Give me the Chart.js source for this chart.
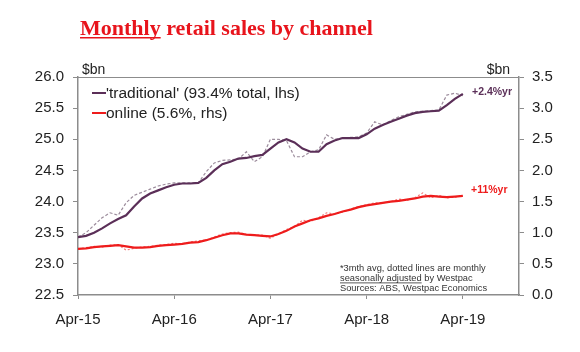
<!DOCTYPE html>
<html>
<head>
<meta charset="utf-8">
<script src="https://cdn.jsdelivr.net/npm/chart.js@4.4.1/dist/chart.umd.min.js"></script>
<style>
  html, body { margin: 0; padding: 0; background: #fff; }
  #wrap { width: 580px; height: 352px; position: relative; }
</style>
</head>
<body>
<div id="wrap"><canvas id="c" width="580" height="352"></canvas></div>
<script>
// ---- data (monthly, Apr-15 .. Apr-19) ----
const months = ['Apr-15','May-15','Jun-15','Jul-15','Aug-15','Sep-15','Oct-15','Nov-15','Dec-15','Jan-16','Feb-16','Mar-16',
  'Apr-16','May-16','Jun-16','Jul-16','Aug-16','Sep-16','Oct-16','Nov-16','Dec-16','Jan-17','Feb-17','Mar-17',
  'Apr-17','May-17','Jun-17','Jul-17','Aug-17','Sep-17','Oct-17','Nov-17','Dec-17','Jan-18','Feb-18','Mar-18',
  'Apr-18','May-18','Jun-18','Jul-18','Aug-18','Sep-18','Oct-18','Nov-18','Dec-18','Jan-19','Feb-19','Mar-19','Apr-19'];

// 'traditional' 3mth avg, $bn (lhs)
const traditional3m = [23.43,23.45,23.50,23.57,23.65,23.72,23.78,23.92,24.05,24.13,24.18,24.23,
  24.27,24.29,24.29,24.30,24.38,24.50,24.60,24.64,24.69,24.70,24.73,24.75,
  24.85,24.95,25.00,24.95,24.85,24.80,24.80,24.92,24.98,25.02,25.02,25.02,
  25.08,25.17,25.23,25.28,25.33,25.38,25.42,25.44,25.45,25.46,25.55,25.65,25.73];
// 'traditional' monthly, $bn (lhs)
const traditionalM = [23.43,23.50,23.62,23.74,23.82,23.78,23.98,24.10,24.15,24.20,24.25,24.28,
  24.30,24.30,24.30,24.30,24.48,24.62,24.66,24.67,24.68,24.80,24.64,24.72,
  25.00,25.00,24.98,24.72,24.72,24.80,24.83,25.07,25.00,25.02,25.03,25.04,
  25.10,25.28,25.23,25.30,25.36,25.40,25.44,25.45,25.46,25.47,25.71,25.74,25.70];
// online 3mth avg, $bn (rhs)
const online3m = [0.74,0.75,0.77,0.78,0.79,0.80,0.78,0.76,0.76,0.77,0.79,0.80,
  0.81,0.82,0.84,0.85,0.88,0.92,0.96,0.99,0.99,0.97,0.96,0.95,
  0.94,0.98,1.03,1.10,1.15,1.20,1.23,1.27,1.30,1.34,1.37,1.41,
  1.44,1.46,1.48,1.50,1.51,1.53,1.55,1.58,1.59,1.58,1.57,1.58,1.59];
// online monthly, $bn (rhs)
const onlineM = [0.74,0.76,0.78,0.77,0.80,0.81,0.72,0.75,0.77,0.78,0.80,0.81,
  0.83,0.82,0.85,0.87,0.88,0.93,0.98,1.00,1.01,0.97,0.96,0.96,
  0.91,0.98,1.05,1.10,1.20,1.18,1.24,1.32,1.30,1.33,1.38,1.42,
  1.45,1.48,1.48,1.50,1.54,1.52,1.56,1.64,1.56,1.60,1.56,1.57,1.60];

const xTickLabels = ['Apr-15','Apr-16','Apr-17','Apr-18','Apr-19'];
const xTickIndex = [0, 12, 24, 36, 48];
const xMaxIndex = 55; // axis runs to Nov-19
const legendLabels = ["'traditional' (93.4% total, lhs)", "online (5.6%, rhs)"];
const endLabels = ['+2.4%yr', '+11%yr'];
const noteLines = ['*3mth avg, dotted lines are monthly', 'seasonally adjusted by Westpac', 'Sources: ABS, Westpac Economics'];

const PURPLE = '#5b2f58';
const PURPLE_DOT = '#9c8c9c';
const RED = '#ee1c1c';
const RED_DOT = '#f27a7a';
const AXIS = '#8c8c8c';
const FONT = '"Liberation Sans", Arial, sans-serif';

const pts = arr => arr.map((v, i) => ({ x: i, y: v }));

const overlay = {
  id: 'overlay',
  afterDraw(chart) {
    const ctx = chart.ctx;
    const a = chart.chartArea;
    ctx.save();
    // top frame line
    ctx.strokeStyle = AXIS; ctx.lineWidth = 1;
    ctx.beginPath(); ctx.moveTo(a.left, a.top + 0.5); ctx.lineTo(a.right, a.top + 0.5); ctx.stroke();

    // title
    ctx.fillStyle = '#e8141c';
    ctx.font = 'bold 22px "Liberation Serif", "Times New Roman", serif';
    ctx.textBaseline = 'alphabetic';
    ctx.textAlign = 'left';
    const t1 = 'Monthly', t2 = ' retail sales by channel';
    const tx = 80, ty = 35;
    ctx.fillText(t1, tx, ty);
    const w1 = ctx.measureText(t1).width;
    ctx.fillText(t2, tx + w1, ty);
    ctx.fillRect(tx, ty + 2, w1, 1.5);

    // units
    ctx.fillStyle = '#222';
    ctx.font = '14px ' + FONT;
    ctx.textBaseline = 'alphabetic';
    ctx.textAlign = 'left';
    ctx.fillText('$bn', a.left + 4, a.top - 3);
    ctx.textAlign = 'right';
    ctx.fillText('$bn', a.right - 9, a.top - 3);

    // legend
    ctx.textAlign = 'left';
    ctx.textBaseline = 'middle';
    ctx.font = '15.5px ' + FONT;
    const lg = [[legendLabels[0], PURPLE, 93], [legendLabels[1], RED, 113]];
    lg.forEach(([txt, col, y]) => {
      ctx.strokeStyle = col; ctx.lineWidth = 2;
      ctx.beginPath(); ctx.moveTo(a.left + 14, y); ctx.lineTo(a.left + 28, y); ctx.stroke();
      ctx.fillStyle = '#222';
      ctx.fillText(txt, a.left + 28, y + 1);
    });

    // end labels
    ctx.font = 'bold 10.5px ' + FONT;
    ctx.textAlign = 'left';
    ctx.fillStyle = PURPLE;
    ctx.fillText(endLabels[0], 472, 92);
    ctx.fillStyle = RED;
    ctx.fillText(endLabels[1], 471, 190);

    // footnote
    ctx.fillStyle = '#333';
    ctx.font = '9.3px ' + FONT;
    ctx.textBaseline = 'alphabetic';
    const nx = 340;
    const ny = [271, 281, 291];
    noteLines.forEach((s, i) => ctx.fillText(s, nx, ny[i]));
    const uw = ctx.measureText('seasonally adjusted').width;
    ctx.fillRect(nx, ny[1] + 1.5, uw, 0.8);
    ctx.restore();
  }
};

new Chart(document.getElementById('c'), {
  type: 'line',
  data: {
    datasets: [
      { label: 'traditional 3mth', data: pts(traditional3m), yAxisID: 'y', borderColor: PURPLE, borderWidth: 2.2, pointRadius: 0, tension: 0 },
      { label: 'online 3mth', data: pts(online3m), yAxisID: 'y2', borderColor: RED, borderWidth: 2.2, pointRadius: 0, tension: 0 },
      { label: 'traditional monthly', data: pts(traditionalM), yAxisID: 'y', borderColor: PURPLE_DOT, borderWidth: 1.2, borderDash: [3, 2], pointRadius: 0, tension: 0 },
      { label: 'online monthly', data: pts(onlineM), yAxisID: 'y2', borderColor: RED_DOT, borderWidth: 1.2, borderDash: [2, 2], pointRadius: 0, tension: 0 }
    ]
  },
  options: {
    responsive: false,
    animation: false,
    layout: { padding: { top: 77, left: 0, right: 0, bottom: 0 } },
    plugins: { legend: { display: false }, tooltip: { enabled: false }, title: { display: false } },
    scales: {
      x: {
        type: 'linear', min: 0, max: xMaxIndex,
        afterBuildTicks: s => { s.ticks = xTickIndex.map(v => ({ value: v })); },
        afterFit: s => { s.height = 57; },
        grid: { drawOnChartArea: false, drawTicks: true, tickLength: 4, color: AXIS },
        border: { color: AXIS, width: 1.5 },
        ticks: { color: '#222', font: { family: FONT, size: 15 }, padding: 12, maxRotation: 0,
          callback: v => { const k = xTickIndex.indexOf(v); return k >= 0 ? xTickLabels[k] : ''; } }
      },
      y: {
        position: 'left', min: 22.5, max: 26.0,
        afterBuildTicks: s => { s.ticks = []; for (let v = 22.5; v <= 26.0001; v += 0.5) s.ticks.push({ value: +v.toFixed(1) }); },
        afterFit: s => { s.width = 78; },
        grid: { drawOnChartArea: false, drawTicks: true, tickLength: 5, color: AXIS },
        border: { color: AXIS, width: 1.5 },
        ticks: { color: '#222', font: { family: FONT, size: 15 }, padding: 9, callback: v => v.toFixed(1) }
      },
      y2: {
        position: 'right', min: 0, max: 3.5,
        afterBuildTicks: s => { s.ticks = []; for (let v = 0; v <= 3.5001; v += 0.5) s.ticks.push({ value: +v.toFixed(1) }); },
        afterFit: s => { s.width = 61; },
        grid: { drawOnChartArea: false, drawTicks: true, tickLength: 5, color: AXIS },
        border: { color: AXIS, width: 1.5 },
        ticks: { color: '#222', font: { family: FONT, size: 15 }, padding: 8, callback: v => v.toFixed(1) }
      }
    }
  },
  plugins: [overlay]
});
</script>
</body>
</html>
